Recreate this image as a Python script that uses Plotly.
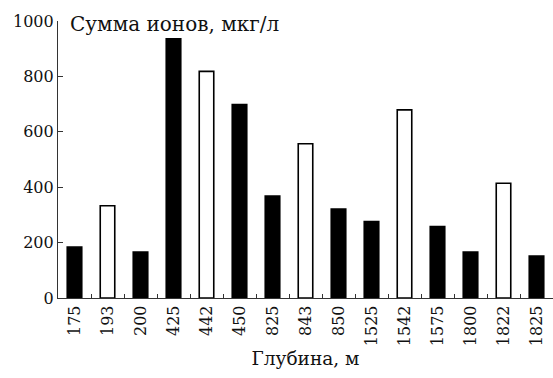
import plotly.graph_objects as go

depths = ["175", "193", "200", "425", "442", "450", "825", "843", "850",
          "1525", "1542", "1575", "1800", "1822", "1825"]
ion_sum = [184, 333, 166, 936, 818, 698, 368, 557, 321, 276, 679, 258, 166, 414, 151]
filled = [True, False, True, True, False, True, True, False, True,
          True, False, True, True, False, True]

colors = ["black" if f else "white" for f in filled]

fig = go.Figure(go.Bar(
    x=depths, y=ion_sum, width=0.44,
    marker=dict(color=colors, line=dict(color="black", width=1.6)),
))

font = dict(family="DejaVu Serif", size=16, color="#111")
title_font = dict(family="DejaVu Serif", size=18.5, color="#111")
ann_font = dict(family="DejaVu Serif", size=20, color="#111")

fig.update_layout(
    width=553, height=378,
    margin=dict(l=58, r=0, t=21, b=80, autoexpand=False),
    plot_bgcolor="white", paper_bgcolor="white",
    font=font, showlegend=False, bargap=0.5,
    annotations=[dict(text="Сумма ионов, мкг/л", xref="paper", yref="paper",
                      x=0.02, y=0.99, xanchor="left", yanchor="middle",
                      showarrow=False, font=ann_font)],
)
fig.update_xaxes(
    type="category", range=[-0.5, 14.5], tickangle=-90, automargin=False,
    showline=True, linecolor="#333", linewidth=1.2,
    ticks="inside", tickson="boundaries", ticklen=4, tickcolor="#333",
    showgrid=False, zeroline=False,
    title=dict(text="Глубина, м", standoff=6, font=title_font),
)
fig.update_yaxes(
    range=[0, 1000], tickvals=[0, 200, 400, 600, 800, 1000], automargin=False,
    showline=True, linecolor="#333", linewidth=1.2,
    ticks="inside", ticklen=5, tickcolor="#333",
    showgrid=False, zeroline=False,
)

fig.write_html("out.html", config={"displayModeBar": False},
               post_script="document.body.style.margin='0';")
